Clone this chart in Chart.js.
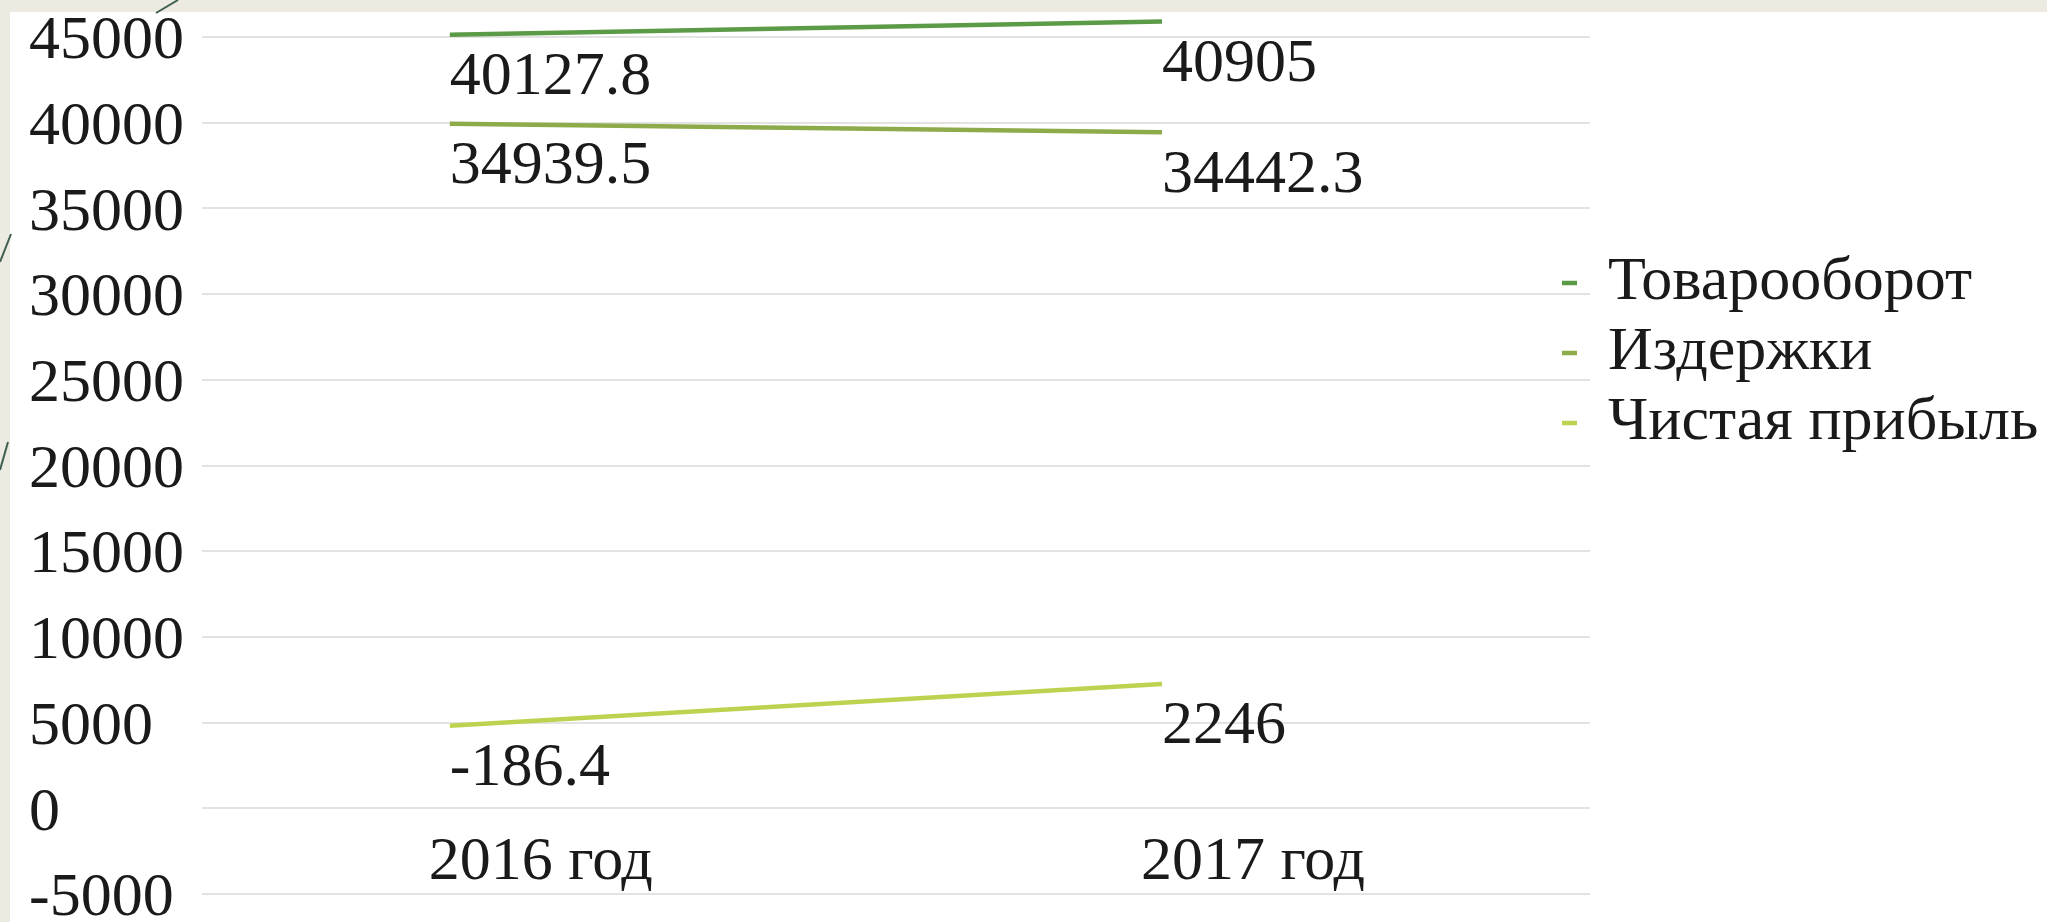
<!DOCTYPE html>
<html><head><meta charset="utf-8">
<script src="https://cdn.jsdelivr.net/npm/chart.js@4/dist/chart.umd.min.js"></script>
<style>
html,body{margin:0;padding:0;background:#edeae2;width:2047px;height:922px;overflow:hidden;}
#panel{position:absolute;left:10px;top:12px;right:0;bottom:0;background:#fff;}
#deco{position:absolute;left:0;top:0;}
#wrap{position:absolute;left:0;top:0;width:2047px;height:922px;}
</style></head><body>
<div id="panel"></div>
<svg id="deco" width="2047" height="922">
  <path d="M178,0 L156,13" stroke="#3f5f50" stroke-width="2" fill="none"/>
  <path d="M11,234 L0,262" stroke="#3f5f50" stroke-width="2" fill="none"/>
  <path d="M8,442 L0,470" stroke="#3f5f50" stroke-width="2" fill="none"/>
</svg>
<div id="wrap"><canvas id="c"></canvas></div>
<script>
// ---- data ----
const categories = ['2016 год', '2017 год'];
const seriesNames = ['Товарооборот', 'Издержки', 'Чистая прибыль'];
const turnover = [40127.8, 40905];
const costs = [34939.5, 34442.3];
const netProfit = [-186.4, 2246];
const yTickValues = [-10000, -5000, 0, 5000, 10000, 15000, 20000, 25000, 30000, 35000, 40000];
const yTickLabels = ['-5000', '0', '5000', '10000', '15000', '20000', '25000', '30000', '35000', '40000', '45000'];

// ---- styles ----
const seriesColors = ['#5b9b47', '#8dab4b', '#bcd350'];
const textColor = '#1a1a1a';
const FONT = '"Liberation Serif", "Times New Roman", serif';
Chart.defaults.font.family = FONT;
Chart.defaults.color = textColor;

const seriesValues = [turnover, costs, netProfit];

const valueLabels = {
  id: 'valueLabels',
  afterDatasetsDraw(chart) {
    const ctx = chart.ctx;
    ctx.save();
    ctx.font = '62px ' + FONT;
    ctx.fillStyle = textColor;
    ctx.textAlign = 'left';
    ctx.textBaseline = 'middle';
    chart.data.datasets.forEach((ds, di) => {
      const meta = chart.getDatasetMeta(di);
      meta.data.forEach((pt, i) => {
        ctx.fillText(String(seriesValues[di][i]), pt.x, pt.y + 43);
      });
    });
    ctx.restore();
  }
};

const legendShift = {
  id: 'legendShift',
  afterLayout(chart) {
    const lg = chart.legend;
    if (!lg) return;
    const h = lg.height;
    lg.left = 1554; lg.right = 2047;
    lg.top = 244; lg.bottom = 244 + h;
  }
};

new Chart(document.getElementById('c'), {
  type: 'line',
  data: {
    datasets: seriesNames.map((name, si) => ({
      label: name,
      data: seriesValues[si].map((v, i) => ({x: i, y: v})),
      borderColor: seriesColors[si],
      backgroundColor: seriesColors[si],
      borderWidth: 4.5,
      pointRadius: 0,
      pointHoverRadius: 0,
      pointStyle: 'line',
      tension: 0,
      fill: false,
      clip: false,
      borderCapStyle: 'butt'
    }))
  },
  options: {
    responsive: true,
    maintainAspectRatio: false,
    animation: false,
    devicePixelRatio: 1,
    layout: {padding: {left: 29, top: 37, bottom: 28, right: 0}},
    scales: {
      x: {
        type: 'linear',
        min: -0.348,
        max: 1.601,
        position: {y: -5000},
        grid: {display: false, drawTicks: false},
        border: {display: false},
        afterBuildTicks: s => { s.ticks = categories.map((c, i) => ({value: i})); },
        ticks: {
          callback: v => categories[v],
          labelOffset: 91,
          padding: 17,
          maxRotation: 0,
          autoSkip: false,
          font: {size: 62, lineHeight: 1.2},
          color: textColor
        }
      },
      y: {
        min: -10000,
        max: 40000,
        afterBuildTicks: s => { s.ticks = yTickValues.map(v => ({value: v})); },
        afterFit: s => { s.width = 173; },
        grid: {color: '#e3e3e3', lineWidth: 2, drawTicks: false},
        border: {display: false},
        ticks: {
          crossAlign: 'far',
          labelOffset: 5,
          callback: (v, i) => yTickLabels[i],
          font: {size: 62, lineHeight: 0.8},
          color: textColor,
          autoSkip: false
        }
      }
    },
    plugins: {
      legend: {
        position: 'right',
        align: 'start',
        maxWidth: 457,
        labels: {
          usePointStyle: true,
          pointStyle: 'line',
          pointStyleWidth: 15,
          padding: 8,
          font: {size: 62},
          color: textColor
        }
      },
      tooltip: {enabled: false}
    }
  },
  plugins: [valueLabels, legendShift]
});
</script>
</body></html>
